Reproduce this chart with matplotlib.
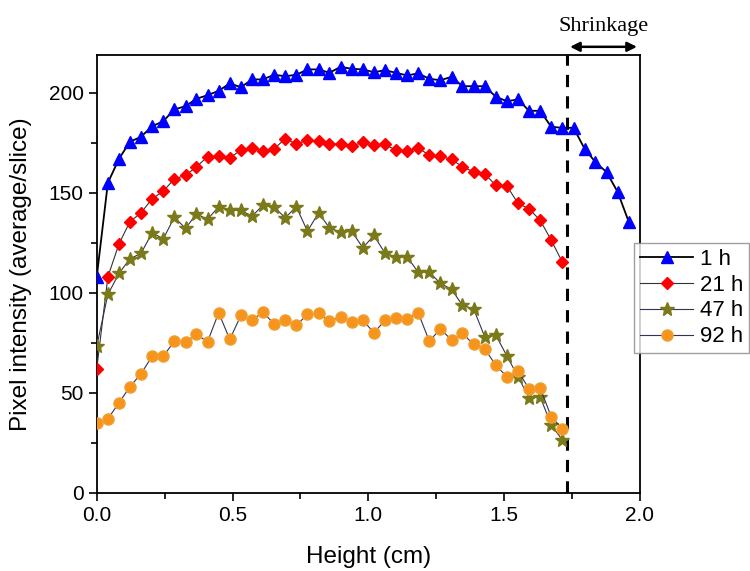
import matplotlib
matplotlib.use('Agg')
import matplotlib.pyplot as plt

plt.rcParams['font.family'] = ['Liberation Sans', 'DejaVu Sans']

# slice heights (cm)
x_1h = [0.000, 0.041, 0.082, 0.122, 0.163, 0.204, 0.245, 0.286, 0.327, 0.367,
        0.408, 0.449, 0.490, 0.531, 0.572, 0.612, 0.653, 0.694, 0.735, 0.776,
        0.817, 0.857, 0.898, 0.939, 0.980, 1.021, 1.062, 1.102, 1.143, 1.184,
        1.225, 1.266, 1.307, 1.347, 1.388, 1.429, 1.470, 1.511, 1.552, 1.592,
        1.633, 1.674, 1.715, 1.756, 1.797, 1.837, 1.878, 1.919, 1.960]
x_rest = x_1h[:43]

y_1h = [108, 155, 167, 175.5, 178, 183.3, 185.8, 191.7, 193.3, 197,
        198.8, 201, 204.7, 202.8, 206.7, 206.7, 209, 208.3, 209, 211.7,
        211.7, 210, 213, 212, 211.7, 210.3, 211.3, 210, 208.7, 209.7,
        207, 206.3, 208, 203.3, 203.3, 203.3, 198, 195.8, 196.7, 191,
        191, 183, 182.5, 182.5, 172, 165.3, 160.3, 150.3, 135.3]
y_21h = [62, 108, 124.5, 135.5, 140, 147, 150.8, 157, 158.7, 163,
         168, 168.3, 167.5, 171.3, 172.5, 170.8, 172, 177, 174.5, 176.3,
         175.8, 174.5, 174.2, 173.3, 175.3, 173.7, 174.2, 171.3, 170.8, 172.5,
         168.7, 168.3, 166.7, 163, 160.5, 159.5, 153.7, 153.3, 144.7, 142,
         136.3, 126.3, 115.3]
y_47h = [73.3, 99.2, 109.7, 117, 119.7, 130, 127, 137.8, 132.2, 139.5,
         136.7, 143, 141.2, 141.2, 138.3, 143.8, 143, 137.5, 143, 130.8,
         140, 132.5, 130.3, 130.8, 122.5, 128.7, 119.7, 118, 118, 110.3,
         110.3, 104.7, 101.7, 93.7, 92, 78, 78.8, 68.3, 58, 47.5,
         48, 34, 26.3]
y_92h = [34.7, 37, 45, 53, 59.5, 68.3, 68.3, 75.8, 75.5, 79.2,
         75.5, 90, 76.7, 88.7, 86.3, 90.3, 84.5, 86.3, 83.7, 89.2,
         89.7, 85.8, 88, 85.5, 86.3, 80, 86.3, 87.5, 87, 90,
         75.8, 82, 76.3, 79.7, 74.2, 72, 63.7, 58, 60.8, 52,
         52.5, 38, 32]

shrink_x = 1.733

fig = plt.figure(figsize=(7.5, 5.71), dpi=100)
ax = fig.add_axes([0.129, 0.137, 0.724, 0.767])

ax.plot(x_1h, y_1h, color='black', lw=1.3, marker='^', ms=8.5,
        mfc='#0000ff', mec='#0000ff', label='1 h', zorder=4)
ax.plot(x_rest, y_21h, color='#333333', lw=0.8, marker='D', ms=6.5,
        mfc='#ff0000', mec='#ff0000', label='21 h', zorder=3)
ax.plot(x_rest, y_47h, color='#333355', lw=0.8, marker='*', ms=10,
        mfc='#7a7a1a', mec='#7a7a1a', label='47 h', zorder=3)
ax.plot(x_rest, y_92h, color='#333355', lw=0.8, marker='o', ms=8,
        mfc='#f7941d', mec='#f0a030', label='92 h', zorder=3)

# shrinkage marker
ax.axvline(shrink_x, color='black', lw=2.2, ls=(0, (4, 3)), zorder=2)
ax.annotate('', xy=(shrink_x, 223), xytext=(2.0, 223),
            arrowprops=dict(arrowstyle='<|-|>', color='black', lw=1.8,
                            mutation_scale=14),
            annotation_clip=False)
ax.text((shrink_x + 2.0) / 2, 228.5, 'Shrinkage', ha='center', va='bottom',
        fontsize=16, family=['Liberation Serif', 'DejaVu Serif'])

ax.set_xlim(0, 2.0)
ax.set_ylim(0, 219)
ax.set_xticks([0, 0.5, 1.0, 1.5, 2.0])
ax.set_xticklabels(['0.0', '0.5', '1.0', '1.5', '2.0'])
ax.set_yticks([0, 50, 100, 150, 200])
ax.set_xticks([0.25, 0.75, 1.25, 1.75], minor=True)
ax.set_yticks([25, 75, 125, 175], minor=True)
ax.tick_params(which='major', direction='out', length=6, width=1.2,
               labelsize=15)
ax.tick_params(which='minor', direction='out', length=4, width=1.2)
for s in ax.spines.values():
    s.set_linewidth(1.3)

ax.set_xlabel('Height (cm)', fontsize=17.5, labelpad=15)
ax.set_ylabel('Pixel intensity (average/slice)', fontsize=17.5)
ax.yaxis.set_label_coords(-0.12, 0.5)

leg = ax.legend(loc='upper left', bbox_to_anchor=(0.99, 0.57), fontsize=16,
                frameon=True, fancybox=False, edgecolor='#888888',
                borderpad=0.25, labelspacing=0.22, handlelength=2.4,
                handletextpad=0.3, borderaxespad=0)
leg.get_frame().set_linewidth(1.0)

fig.savefig('out.png', dpi=100)
